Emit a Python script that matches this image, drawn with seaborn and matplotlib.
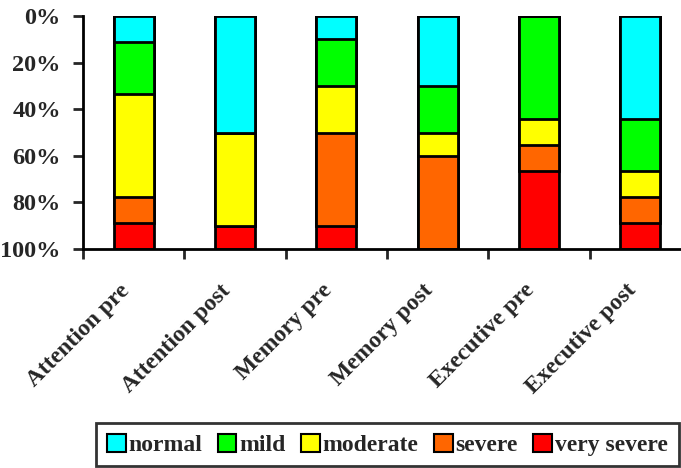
import matplotlib
matplotlib.use("Agg")
import matplotlib.pyplot as plt
import seaborn as sns
import pandas as pd
import numpy as np
from matplotlib.patches import Patch

categories = ["Attention pre", "Attention post", "Memory pre", "Memory post",
              "Executive pre", "Executive post"]
levels = ["normal", "mild", "moderate", "severe", "very severe"]
normal = [11.1, 50.0, 10.0, 30.0, 0.0, 44.4]
mild = [22.2, 0.0, 20.0, 20.0, 44.4, 22.3]
moderate = [44.5, 40.0, 20.0, 10.0, 11.1, 11.1]
severe = [11.1, 0.0, 40.0, 40.0, 11.2, 11.1]
very_severe = [11.1, 10.0, 10.0, 0.0, 33.3, 11.1]
colors = ["#00FFFF", "#00FF00", "#FFFF00", "#FF6600", "#FF0000"]
yticks = [0, 20, 40, 60, 80, 100]
ytick_labels = ["0%", "20%", "40%", "60%", "80%", "100%"]

sns.set_style("white")
plt.rcParams["font.family"] = ["Liberation Serif", "DejaVu Serif"]
plt.rcParams["font.weight"] = "bold"

series = [normal, mild, moderate, severe, very_severe]
cum = np.cumsum(np.array(series), axis=0)

fig = plt.figure(figsize=(6.81, 4.68), dpi=100)
ax = fig.add_axes([83 / 681, 1 - 249 / 468, 608 / 681, 233 / 468])

# draw layers from the deepest (cumulative to very severe) to the top (normal)
for i in range(len(levels) - 1, -1, -1):
    df = pd.DataFrame({"cat": categories, "val": cum[i]})
    sns.barplot(data=df, x="cat", y="val", color=colors[i], saturation=1,
                width=0.395, edgecolor="black", linewidth=2, errorbar=None, ax=ax)

ax.set_ylim(100, 0)
ax.set_xlim(-0.5, 5.5)
ax.set_yticks(yticks)
ax.set_yticklabels(ytick_labels, fontsize=17.5, fontweight="bold")
ax.set_xticks(range(len(categories)))
ax.set_xticklabels(categories, rotation=45, ha="right", va="bottom",
                   rotation_mode="anchor", fontsize=17, fontweight="bold")
ax.tick_params(axis="x", which="major", length=0, pad=33)
ax.set_xticks(np.arange(-0.5, 6.0, 1.0), minor=True)
ax.tick_params(axis="x", which="minor", length=7, width=2, direction="out", bottom=True)
ax.tick_params(axis="y", length=7, width=2, direction="out", left=True, pad=9)
ax.set_xlabel("")
ax.set_ylabel("")
for s in ["top", "right"]:
    ax.spines[s].set_visible(False)
for s in ["left", "bottom"]:
    ax.spines[s].set_linewidth(2)
    ax.spines[s].set_color("black")

handles = [Patch(facecolor=c, edgecolor="black", linewidth=1.5) for c in colors]
leg = fig.legend(handles, levels, loc="upper left",
                 bbox_to_anchor=(96 / 681, 1 - 423 / 468), ncol=5,
                 prop={"family": "Liberation Serif", "weight": "bold", "size": 17},
                 handlelength=0.8, handleheight=0.8, handletextpad=0.12,
                 columnspacing=0.65, borderpad=0.45, frameon=True, fancybox=False,
                 borderaxespad=0)
leg.get_frame().set_edgecolor("black")
leg.get_frame().set_linewidth(2)

fig.savefig("out.png", dpi=100)
